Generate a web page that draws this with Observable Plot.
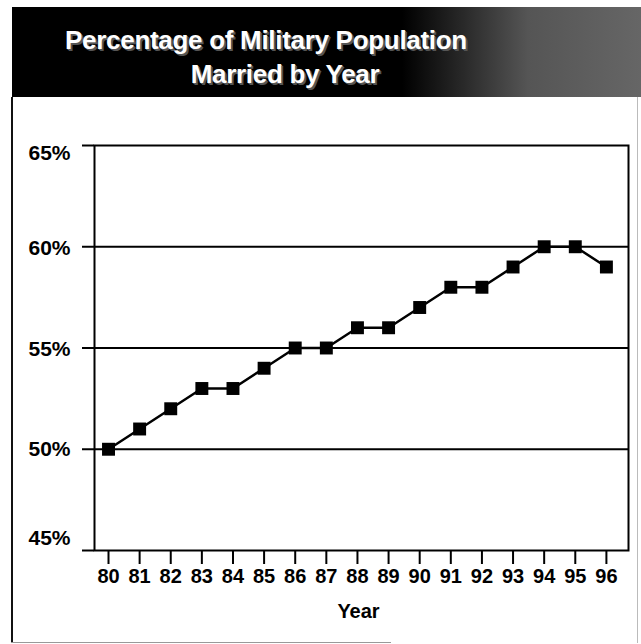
<!DOCTYPE html>
<html>
<head>
<meta charset="utf-8">
<script src="https://cdn.jsdelivr.net/npm/d3@7"></script>
<script src="https://cdn.jsdelivr.net/npm/@observablehq/plot@0.6"></script>
<style>
  html, body { margin: 0; padding: 0; background: #fff; }
  body { width: 641px; height: 644px; position: relative; overflow: hidden; font-family: "Liberation Sans", Arial, sans-serif; }
  #band { position: absolute; left: 12px; top: 7px; width: 629px; height: 90px;
    background: linear-gradient(to right, #000 0%, #000 62%, #2a2a2a 72%, #555 82%, #666 100%); }
  .tline { position: absolute; left: 0; color: #fff; font-weight: bold; font-size: 26px; line-height: 34px;
    text-align: center; text-shadow: 2px 2px 0 #555, 1px 1px 0 #777; white-space: nowrap; letter-spacing: -0.3px; }
  #frameL { position: absolute; left: 11px; top: 97px; width: 2px; height: 546px; background: #111; }
  #frameB { position: absolute; left: 11px; top: 642px; width: 380px; height: 1px; background: #999; }
  #frameR { position: absolute; left: 637px; top: 97px; width: 1px; height: 546px; background: #bbb; }
  #chart { position: absolute; left: 0; top: 97px; }
</style>
</head>
<body>
<div id="band"></div>
<div class="tline" id="t1" style="top:23px; width:532px;"></div>
<div class="tline" id="t2" style="top:57px; width:570px;"></div>
<div id="frameL"></div>
<div id="frameB"></div>
<div id="frameR"></div>
<div id="chart"></div>
<script>
const titleLines = ["Percentage of Military Population", "Married by Year"];
const years = [80, 81, 82, 83, 84, 85, 86, 87, 88, 89, 90, 91, 92, 93, 94, 95, 96];
const married = [50, 51, 52, 53, 53, 54, 55, 55, 56, 56, 57, 58, 58, 59, 60, 60, 59];
const yTicks = [45, 50, 55, 60, 65];
const gridValues = [50, 55, 60];
const xLabel = "Year";

document.getElementById("t1").textContent = titleLines[0];
document.getElementById("t2").textContent = titleLines[1];

const data = years.map((y, i) => ({year: y, pct: married[i]}));
const fmt = d => d + "%";

// per-label vertical nudges as seen in the reference
const labelShift = {45: -12, 50: 0, 55: 1, 60: 2, 65: 8};

const chart = Plot.plot({
  width: 641,
  height: 547,
  marginLeft: 94,
  marginRight: 13,
  marginTop: 48,
  marginBottom: 94,
  style: {background: "transparent", fontFamily: "'Liberation Sans', Arial, sans-serif", overflow: "visible"},
  x: {domain: [79.55, 96.71], label: null},
  y: {domain: [45, 65], label: null},
  marks: [
    Plot.ruleY(gridValues, {stroke: "#000", strokeWidth: 2}),
    Plot.frame({stroke: "#000", strokeWidth: 2}),
    Plot.axisY({ticks: yTicks, tickSize: 12, tickFormat: () => "", label: null, stroke: "#000", strokeWidth: 2, strokeOpacity: 1}),
    ...yTicks.map(t => Plot.text([t], {
      y: d => d, frameAnchor: "left", dx: -24, dy: labelShift[t], textAnchor: "end",
      text: fmt, fontSize: 21, fontWeight: "bold", fill: "#000"
    })),
    Plot.axisX({ticks: years, tickSize: 14, tickPadding: 4, tickFormat: d => String(d), fontSize: 20, fontWeight: "bold",
      stroke: "#000", strokeWidth: 2, strokeOpacity: 1, fill: "#000", label: null}),
    Plot.text([xLabel], {frameAnchor: "bottom", dy: 67, dx: -3, text: d => d, fontSize: 20, fontWeight: "bold", fill: "#000"}),
    Plot.line(data, {x: "year", y: "pct", stroke: "#000", strokeWidth: 2.5}),
    Plot.dot(data, {x: "year", y: "pct", symbol: "square", r: 7.3, fill: "#000", stroke: null})
  ]
});
document.getElementById("chart").appendChild(chart);
</script>
</body>
</html>
